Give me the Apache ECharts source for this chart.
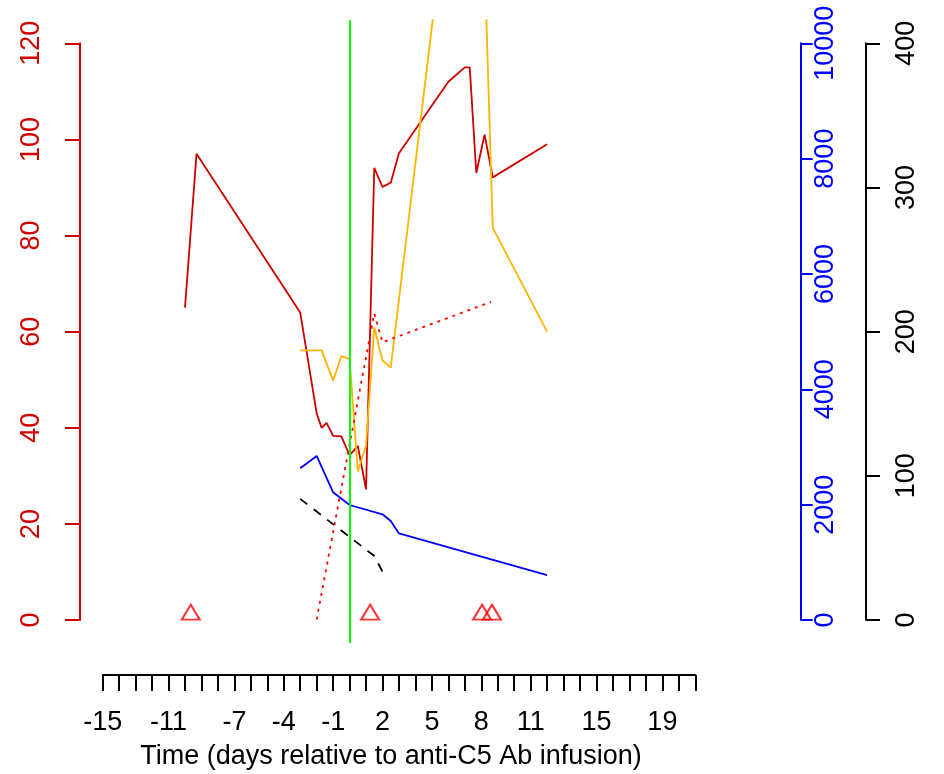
<!DOCTYPE html>
<html>
<head>
<meta charset="utf-8">
<script src="https://cdn.jsdelivr.net/npm/echarts@6/dist/echarts.min.js"></script>
<style>
html,body{margin:0;padding:0;background:#fff;}
#c{width:944px;height:774px;}
</style>
</head>
<body>
<div id="c"></div>
<script>
// ---- data (days relative to infusion) ----
const redDays    = [-10.0, -9.3, -3.0, -2.0, -1.7, -1.4, -1.0, -0.5, 0.0, 0.5, 1.0, 1.5, 2.0, 2.5, 3.0, 6.0, 7.0, 7.3, 7.7, 8.2, 8.7, 12.0];
const redValues  = [65, 97, 64, 43, 40, 41, 38.3, 38.2, 34.3, 36.2, 27.2, 94.1, 90.1, 91, 97.1, 112, 115, 115, 93, 101, 92.1, 99];

const orangeDays   = [-3.0, -1.7, -1.0, -0.5, 0.0, 0.5, 1.0, 1.5, 2.0, 2.5, 6.0, 8.2, 8.7, 12.0];
const orangeValues = [187, 187, 166, 183, 181, 103, 121, 203, 180, 175, 506, 458, 272, 200];

const dottedDays   = [-2.0, 1.5, 2.0, 8.6];
const dottedValues = [0.1, 63.8, 57.8, 66.2];

const blueDays   = [-3.0, -2.0, -1.0, 0.0, 2.0, 2.5, 3.0, 12.0];
const blueValues = [2630, 2844, 2214, 1994, 1833, 1717, 1502, 780];

const dashedDays   = [-3.0, 1.5, 2.0];
const dashedValues = [84, 44.4, 33.5];

const markerDays   = [-9.65, 1.25, 8.05, 8.65];
const markerValues = [1, 1, 1, 1];

const infusionDay = 0;

const xTickLabels = [-15, -11, -7, -4, -1, 2, 5, 8, 11, 15, 19];
const xAxisTitle = 'Time (days relative to anti-C5 Ab infusion)';

// ---- layout ----
const W = 944, H = 774;
const PL = 80, PR = 800.7;          // plot region x
const Y0 = 620, YTOP = 43.3;        // pixel of axis min / max
const PAD = 0.04;                   // R style 4% extension
const padPx = (Y0 - YTOP) * PAD;
const XMIN = -16.38, XMAX = 27.41;
const FONT = '"Liberation Sans", Arial, Helvetica, sans-serif';
const FS = 27;

const RED = '#CD0000', ORANGE = '#FFB400', BLUE = '#0000FF', GREEN = '#00FF00';

const pairs = (xs, ys) => xs.map((x, i) => [x, ys[i]]);

function hiddenY(grid, min, max) {
  return {gridIndex: grid, type: 'value', min: min, max: max, show: false, splitLine: {show: false}};
}
function shownY(pos, min, max, interval, color, offset, margin, tickLen) {
  return {
    gridIndex: 1, type: 'value', position: pos, offset: offset || 0,
    min: min, max: max, interval: interval,
    axisLine: {show: true, onZero: false, lineStyle: {color: color, width: 2}},
    axisTick: {show: true, length: tickLen, lineStyle: {color: color, width: 2}},
    axisLabel: {show: true, rotate: 90, margin: margin, color: color, fontSize: FS, fontFamily: FONT,
                formatter: v => String(v)},
    splitLine: {show: false}
  };
}

const chart = echarts.init(document.getElementById('c'), null, {renderer: 'canvas'});
chart.setOption({
  animation: false,
  backgroundColor: '#ffffff',
  grid: [
    {left: PL, right: W - PR, top: YTOP - padPx, bottom: H - (Y0 + padPx)},
    {left: PL, right: W - PR, top: YTOP, bottom: H - Y0},
    {left: 102.7, width: 592.6, top: 600, height: 75}
  ],
  xAxis: [
    {gridIndex: 0, type: 'value', min: XMIN, max: XMAX, show: false, splitLine: {show: false}},
    {gridIndex: 1, type: 'value', min: XMIN, max: XMAX, show: false, splitLine: {show: false}},
    {
      gridIndex: 2, type: 'value', position: 'bottom', min: -15, max: 21, interval: 1,
      axisLine: {show: true, onZero: false, lineStyle: {color: '#000', width: 2}},
      axisTick: {show: true, length: 16, lineStyle: {color: '#000', width: 2}},
      axisLabel: {
        show: true, margin: 34, color: '#000', fontSize: FS, fontFamily: FONT,
        formatter: v => xTickLabels.includes(Math.round(v)) ? String(Math.round(v)) : ''
      },
      splitLine: {show: false}
    }
  ],
  yAxis: [
    hiddenY(0, -120 * PAD, 120 * (1 + PAD)),
    hiddenY(0, -10000 * PAD, 10000 * (1 + PAD)),
    hiddenY(0, -400 * PAD, 400 * (1 + PAD)),
    shownY('left', 0, 120, 20, RED, 0, 35, 15),
    shownY('right', 0, 10000, 2000, BLUE, 0, 11, 12),
    shownY('right', 0, 400, 100, '#000', 866 - PR, 27, 14),
    hiddenY(2, 0, 1)
  ],
  series: [
    {
      type: 'line', xAxisIndex: 0, yAxisIndex: 0, data: pairs(redDays, redValues),
      symbol: 'none', lineStyle: {color: RED, width: 1.8}, clip: true, z: 3
    },
    {
      type: 'line', xAxisIndex: 0, yAxisIndex: 2, data: pairs(orangeDays, orangeValues),
      symbol: 'none', lineStyle: {color: ORANGE, width: 1.8}, clip: true, z: 3
    },
    {
      type: 'line', xAxisIndex: 0, yAxisIndex: 0, data: pairs(dottedDays, dottedValues),
      symbol: 'none', lineStyle: {color: '#FF0000', width: 1.8, type: [3, 5]}, clip: true, z: 3
    },
    {
      type: 'line', xAxisIndex: 0, yAxisIndex: 1, data: pairs(blueDays, blueValues),
      symbol: 'none', lineStyle: {color: BLUE, width: 1.8}, clip: true, z: 3
    },
    {
      type: 'line', xAxisIndex: 0, yAxisIndex: 2, data: pairs(dashedDays, dashedValues),
      symbol: 'none', lineStyle: {color: '#000', width: 1.8, type: [9, 8]}, clip: true, z: 3
    },
    {
      type: 'scatter', xAxisIndex: 0, yAxisIndex: 0, data: pairs(markerDays, markerValues),
      symbol: 'triangle', symbolSize: [18, 15], symbolOffset: [0, -3],
      itemStyle: {color: 'rgba(0,0,0,0)', borderColor: '#FF0000', borderWidth: 2}, z: 4,
      markLine: {
        silent: true, symbol: ['none', 'none'], label: {show: false},
        lineStyle: {color: GREEN, width: 2, type: 'solid'},
        emphasis: {disabled: true},
        data: [{xAxis: infusionDay}]
      }
    }
  ],
  graphic: [
    {
      type: 'text', x: 391, y: 757,
      style: {text: xAxisTitle, fill: '#000', font: FS + 'px ' + FONT, align: 'center', verticalAlign: 'middle', textAlign: 'center', textVerticalAlign: 'middle'}
    }
  ]
});
</script>
</body>
</html>
